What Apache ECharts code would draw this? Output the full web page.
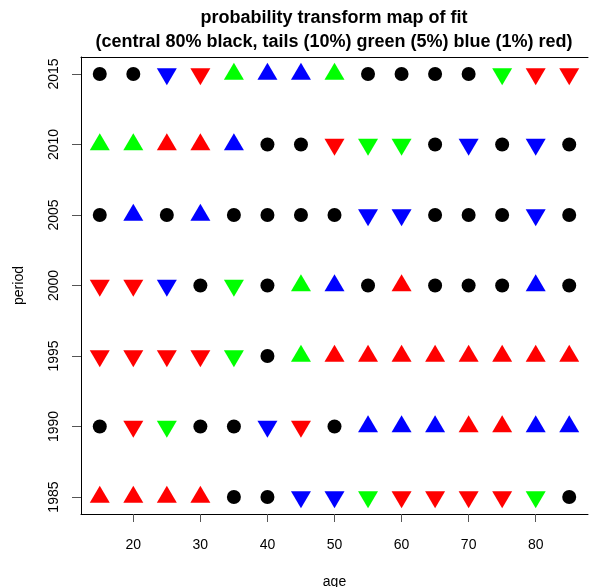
<!DOCTYPE html>
<html>
<head>
<meta charset="utf-8">
<script src="https://cdn.jsdelivr.net/npm/echarts@6/dist/echarts.min.js"></script>
<style>
  html, body { margin: 0; padding: 0; background: #fff; }
  #chart { width: 589px; height: 587px; }
</style>
</head>
<body>
<div id="chart"></div>
<script>
// Age groups along the x axis and periods along the y axis
const ages = [15, 20, 25, 30, 35, 40, 45, 50, 55, 60, 65, 70, 75, 80, 85];
const periods = [1985, 1990, 1995, 2000, 2005, 2010, 2015];
const ageTicks = [20, 30, 40, 50, 60, 70, 80];
const periodTicks = [1985, 1990, 1995, 2000, 2005, 2010, 2015];

// Tail codes per cell: 0 = central 80%, sign = direction (+ upper, - lower),
// magnitude 1 = 10% tail (green), 2 = 5% tail (blue), 3 = 1% tail (red)
const tail1985 = [ 3,  3,  3,  3,  0,  0, -2, -2, -1, -3, -3, -3, -3, -1,  0];
const tail1990 = [ 0, -3, -1,  0,  0, -2, -3,  0,  2,  2,  2,  3,  3,  2,  2];
const tail1995 = [-3, -3, -3, -3, -1,  0,  1,  3,  3,  3,  3,  3,  3,  3,  3];
const tail2000 = [-3, -3, -2,  0, -1,  0,  1,  2,  0,  3,  0,  0,  0,  2,  0];
const tail2005 = [ 0,  2,  0,  2,  0,  0,  0,  0, -2, -2,  0,  0,  0, -2,  0];
const tail2010 = [ 1,  1,  3,  3,  2,  0,  0, -3, -1, -1,  0, -2,  0, -2,  0];
const tail2015 = [ 0,  0, -2, -3,  1,  2,  2,  1,  0,  0,  0,  0, -1, -3, -3];
const tailRows = [tail1985, tail1990, tail1995, tail2000, tail2005, tail2010, tail2015];

const tailColors = ['#000000', '#00ff00', '#0000ff', '#ff0000'];

const points = [];
periods.forEach(function (p, r) {
  ages.forEach(function (a, c) {
    const code = tailRows[r][c];
    const level = Math.abs(code);
    const pt = { value: [a, p], itemStyle: { color: tailColors[level], opacity: 1 } };
    if (code === 0) {
      pt.symbol = 'circle';
      pt.symbolSize = 14;
    } else {
      pt.symbol = 'triangle';
      pt.symbolSize = [20, 17];
      if (code > 0) {
        pt.symbolRotate = 0;
        pt.symbolOffset = [0, -2.8];
      } else {
        pt.symbolRotate = 180;
        pt.symbolOffset = [0, 2.8];
      }
    }
    points.push(pt);
  });
});

const font = 'Liberation Sans, Arial, sans-serif';
const plain = function (v) { return String(v); };
const chart = echarts.init(document.getElementById('chart'), null, { renderer: 'canvas' });

chart.setOption({
  animation: false,
  backgroundColor: '#ffffff',
  grid: { left: 81, right: 1, top: 57, bottom: 73, containLabel: false, outerBoundsMode: 'none' },
  graphic: [
    { type: 'text', x: 334, y: 18, silent: true,
      style: { text: 'probability transform map of fit', align: 'center', verticalAlign: 'middle',
               font: 'bold 18px ' + font, fill: '#000' } },
    { type: 'text', x: 334, y: 42, silent: true,
      style: { text: '(central 80% black, tails (10%) green (5%) blue (1%) red)', align: 'center', verticalAlign: 'middle',
               font: 'bold 18px ' + font, fill: '#000' } }
  ],
  xAxis: [
    {
      type: 'value', min: 12.2, max: 87.8, position: 'bottom',
      name: 'age', nameLocation: 'middle', nameGap: 61,
      nameTextStyle: { fontSize: 14, fontFamily: font, color: '#000' },
      splitLine: { show: false },
      axisLine: { show: true, onZero: false, lineStyle: { color: '#000', width: 1 } },
      axisTick: { show: true, length: 8, customValues: ageTicks, lineStyle: { color: '#555' } },
      axisLabel: { customValues: ageTicks, formatter: plain, margin: 24, fontSize: 14, fontFamily: font, color: '#000' }
    },
    {
      type: 'value', min: 12.2, max: 87.8, position: 'top',
      splitLine: { show: false },
      axisLine: { show: true, onZero: false, lineStyle: { color: '#000', width: 1 } },
      axisTick: { show: false },
      axisLabel: { show: false }
    }
  ],
  yAxis: {
    type: 'value', min: 1983.8, max: 2016.2,
    name: 'period', nameLocation: 'middle', nameGap: 55,
    nameTextStyle: { fontSize: 14, fontFamily: font, color: '#000' },
    splitLine: { show: false },
    axisLine: { show: true, onZero: false, lineStyle: { color: '#000', width: 1 } },
    axisTick: { show: true, length: 9, customValues: periodTicks, lineStyle: { color: '#555' } },
    axisLabel: { customValues: periodTicks, formatter: plain, rotate: 90, margin: 20, fontSize: 14, fontFamily: font, color: '#000' }
  },
  series: [{
    type: 'scatter',
    xAxisIndex: 0,
    yAxisIndex: 0,
    data: points,
    silent: true
  }]
});
</script>
</body>
</html>
